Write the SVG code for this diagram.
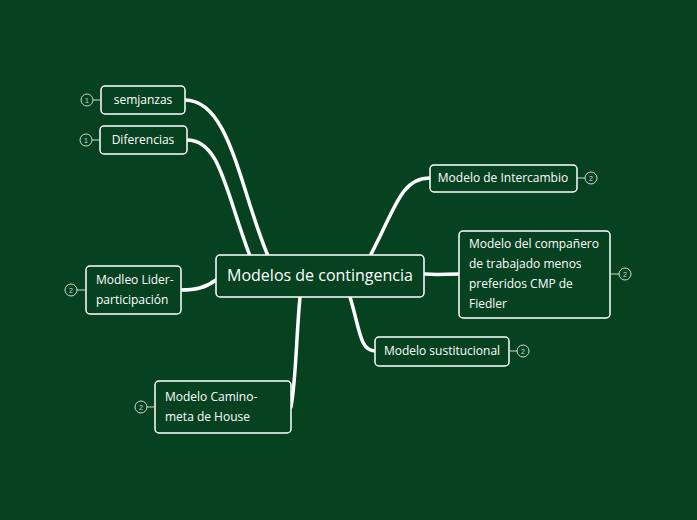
<svg xmlns="http://www.w3.org/2000/svg" width="697" height="520" viewBox="0 0 697 520">
<style>
.n rect{fill:#064220;stroke:#fff;stroke-width:1.5}
.n text{fill:#fff;font-family:"Comic Sans MS","Open Sans",sans-serif;font-size:12px}
.c{fill:none;stroke:#fff;stroke-linecap:round}
.b circle{fill:none;stroke:#cfd8cf;stroke-width:1}
.b text{fill:#cfd8cf;font-family:"Liberation Sans",sans-serif;font-size:7px;text-anchor:middle}
.b line{stroke:#cfd8cf;stroke-width:1}
</style>
<rect width="697" height="520" fill="#064220"/>
<g id="connectors">
<path class="c" stroke-width="3.5" d="M268,256 C240,190 230,100 185,100"/>
<path class="c" stroke-width="3.5" d="M250,256 C225,190 220,140 187,140"/>
<path class="c" stroke-width="3.5" d="M216,280 C205,288 195,290 181,290"/>
<path class="c" stroke-width="3.5" d="M300,297 C296,340 296,380 291,407"/>
<path class="c" stroke-width="3.5" d="M370,256 C395,210 400,178 430,178"/>
<path class="c" stroke-width="3.5" d="M424,274 C440,275 445,274 459,274"/>
<path class="c" stroke-width="3.5" d="M350,297 C360,330 360,351 375,351"/>
</g>
<g id="center" class="n"><rect x="216" y="255" width="208" height="42" rx="4"/><text x="320" y="281" text-anchor="middle" font-size="16" style="font-size:16px">Modelos de contingencia</text></g>
<g id="semjanzas" class="n"><rect x="101" y="86" width="84" height="28" rx="4"/><text x="143" y="104" text-anchor="middle">semjanzas</text></g>
<g id="diferencias" class="n"><rect x="100" y="126" width="87" height="28" rx="4"/><text x="143" y="144" text-anchor="middle">Diferencias</text></g>
<g id="lider" class="n"><rect x="86" y="266" width="95" height="48" rx="4"/><text x="96" y="284">Modleo Lider-</text><text x="96" y="304">participación</text></g>
<g id="camino" class="n"><rect x="155" y="381" width="136" height="52" rx="4"/><text x="165" y="401">Modelo Camino-</text><text x="165" y="421">meta de House</text></g>
<g id="intercambio" class="n"><rect x="430" y="165" width="147" height="27" rx="4"/><text x="503" y="182" text-anchor="middle">Modelo de Intercambio</text></g>
<g id="companero" class="n"><rect x="459" y="231" width="151" height="87" rx="4"/><text x="469" y="248">Modelo del compañero</text><text x="469" y="268">de trabajado menos</text><text x="469" y="288">preferidos CMP de</text><text x="469" y="308">Fiedler</text></g>
<g id="sustitucional" class="n"><rect x="375" y="337" width="134" height="29" rx="4"/><text x="442" y="355" text-anchor="middle">Modelo sustitucional</text></g>
<g id="badges" class="b">
<line x1="93" y1="100" x2="101" y2="100"/><circle cx="87" cy="100" r="6"/><text x="87" y="102.5">1</text>
<line x1="92" y1="140" x2="100" y2="140"/><circle cx="86" cy="140" r="6"/><text x="86" y="142.5">1</text>
<line x1="77" y1="290" x2="86" y2="290"/><circle cx="71" cy="290" r="6"/><text x="71" y="292.5">2</text>
<line x1="147" y1="407" x2="155" y2="407"/><circle cx="141" cy="407" r="6"/><text x="141" y="409.5">2</text>
<line x1="577" y1="178" x2="585" y2="178"/><circle cx="591" cy="178" r="6"/><text x="591" y="180.5">2</text>
<line x1="610" y1="274" x2="619" y2="274"/><circle cx="625" cy="274" r="6"/><text x="625" y="276.5">2</text>
<line x1="509" y1="351" x2="517" y2="351"/><circle cx="523" cy="351" r="6"/><text x="523" y="353.5">2</text>
</g>
</svg>
